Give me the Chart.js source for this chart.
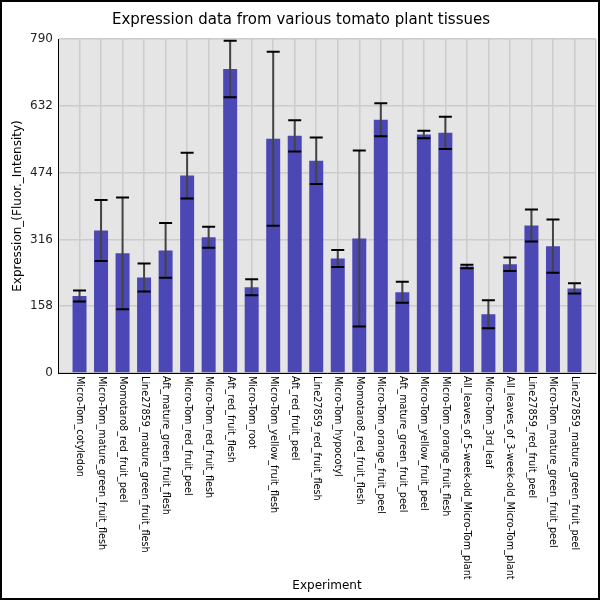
<!DOCTYPE html>
<html>
<head>
<meta charset="utf-8">
<title>Expression data</title>
<script src="https://cdn.jsdelivr.net/npm/chart.js@4.4.0/dist/chart.umd.min.js"></script>
<style>
  html, body { margin: 0; padding: 0; background: #fff; }
  #wrap { width: 600px; height: 600px; }
</style>
</head>
<body>
<div id="wrap"><canvas id="myChart" width="600" height="600"></canvas></div>
<script>
// tissues, in the order they are plotted
const experiments = [
  'Micro-Tom_cotyledon',
  'Micro-Tom_mature_green_fruit_flesh',
  'Momotaro8_red_fruit_peel',
  'Line27859_mature_green_fruit_flesh',
  'Aft_mature_green_fruit_flesh',
  'Micro-Tom_red_fruit_peel',
  'Micro-Tom_red_fruit_flesh',
  'Aft_red_fruit_flesh',
  'Micro-Tom_root',
  'Micro-Tom_yellow_fruit_flesh',
  'Aft_red_fruit_peel',
  'Line27859_red_fruit_flesh',
  'Micro-Tom_hypocotyl',
  'Momotaro8_red_fruit_flesh',
  'Micro-Tom_orange_fruit_peel',
  'Aft_mature_green_fruit_peel',
  'Micro-Tom_yellow_fruit_peel',
  'Micro-Tom_orange_fruit_flesh',
  'All_leaves_of_5-week-old_Micro-Tom_plant',
  'Micro-Tom_3rd_leaf',
  'All_leaves_of_3-week-old_Micro-Tom_plant',
  'Line27859_red_fruit_peel',
  'Micro-Tom_mature_green_fruit_peel',
  'Line27859_mature_green_fruit_peel'
];

// mean expression (Fluor. intensity)
const expression = [182, 337, 283, 226, 290, 467, 321, 719, 203, 554, 561, 502,
                    271, 318, 599, 191, 564, 568, 252, 139, 257, 349, 300, 200];

// standard deviation for the error bars
const stdDev = [13, 72, 132, 33, 65, 54, 25, 67, 19, 206, 37, 55,
                20, 208, 39, 25, 9, 38, 4, 33, 16, 38, 63, 12];

const yTicks = [0, 158, 316, 474, 632, 790];

Chart.defaults.font.family = 'DejaVu Sans';
Chart.defaults.color = '#222';

const ctx = document.getElementById('myChart').getContext('2d');

const frame = {
  id: 'frame',
  beforeDraw(chart) {
    const c = chart.ctx, a = chart.chartArea;
    c.save();
    c.fillStyle = '#fff';
    c.fillRect(0, 0, chart.width, chart.height);
    c.fillStyle = '#e5e5e5';
    c.fillRect(a.left, a.top, a.right - a.left, a.bottom - a.top);
    c.restore();
  },
  afterDraw(chart) {
    const c = chart.ctx;
    c.save();
    c.strokeStyle = '#000';
    c.lineWidth = 2;
    c.strokeRect(1, 1, chart.width - 2, chart.height - 2);
    c.restore();
  }
};

const errorBars = {
  id: 'errorBars',
  afterDatasetsDraw(chart) {
    const c = chart.ctx;
    const xs = chart.scales.x, ys = chart.scales.y;
    c.save();
    expression.forEach((v, i) => {
      const x = xs.getPixelForValue(i);
      const yHi = ys.getPixelForValue(v + stdDev[i]);
      const yLo = ys.getPixelForValue(v - stdDev[i]);
      c.strokeStyle = '#444';
      c.lineWidth = 2;
      c.beginPath();
      c.moveTo(x, yHi);
      c.lineTo(x, yLo);
      c.stroke();
      c.strokeStyle = '#000';
      c.beginPath();
      c.moveTo(x - 6.5, yHi); c.lineTo(x + 6.5, yHi);
      c.moveTo(x - 6.5, yLo); c.lineTo(x + 6.5, yLo);
      c.stroke();
    });
    c.restore();
  }
};

// tick labels read top to bottom, so they are drawn here
const xLabels = {
  id: 'xLabels',
  afterDraw(chart) {
    const c = chart.ctx, xs = chart.scales.x;
    c.save();
    c.font = '9.7px "DejaVu Sans"';
    c.fillStyle = '#000';
    c.textAlign = 'left';
    c.textBaseline = 'middle';
    experiments.forEach((name, i) => {
      c.save();
      c.translate(xs.getPixelForValue(i), chart.chartArea.bottom + 3);
      c.rotate(Math.PI / 2);
      c.fillText(name, 0, 0);
      c.restore();
    });
    c.restore();
  }
};

new Chart(ctx, {
  type: 'bar',
  data: {
    datasets: [{
      label: 'Expression',
      data: expression.map((v, i) => ({ x: i, y: v })),
      backgroundColor: '#4b47b4',
      borderWidth: 0,
      barPercentage: 0.65,
      categoryPercentage: 1
    }]
  },
  options: {
    responsive: false,
    animation: false,
    devicePixelRatio: 1,
    layout: { padding: { left: 6, right: 4, top: 0, bottom: 6 } },
    plugins: {
      legend: { display: false },
      tooltip: { enabled: false },
      title: {
        display: true,
        text: 'Expression data from various tomato plant tissues',
        color: '#000',
        font: { size: 15, weight: 'normal' },
        padding: { top: 11, bottom: 10 }
      }
    },
    scales: {
      x: {
        type: 'linear',
        offset: false,
        min: -1,
        max: 24,
        afterBuildTicks: (scale) => {
          scale.ticks = experiments.map((_, i) => ({ value: i })).concat([{ value: 24 }]);
        },
        afterFit: (scale) => { scale.height = 221; },
        ticks: { display: false },
        grid: { color: '#cccccc', lineWidth: 1.5, drawTicks: false, offset: false },
        border: { color: '#000', width: 1 },
        title: {
          display: true,
          text: 'Experiment',
          color: '#000',
          font: { size: 12 },
          padding: { top: 0, bottom: 1 }
        }
      },
      y: {
        min: 0,
        max: 790,
        afterBuildTicks: (scale) => {
          scale.ticks = yTicks.map(v => ({ value: v }));
        },
        afterFit: (scale) => { scale.width = 52; },
        ticks: { font: { size: 12 }, color: '#222', padding: 5 },
        grid: { color: '#cccccc', lineWidth: 1.5, drawTicks: false },
        border: { color: '#000', width: 1 },
        title: {
          display: true,
          text: 'Expression_(Fluor._Intensity)',
          color: '#000',
          font: { size: 12 },
          padding: { top: 5, bottom: 0 }
        }
      }
    }
  },
  plugins: [frame, errorBars, xLabels]
});
</script>
</body>
</html>
